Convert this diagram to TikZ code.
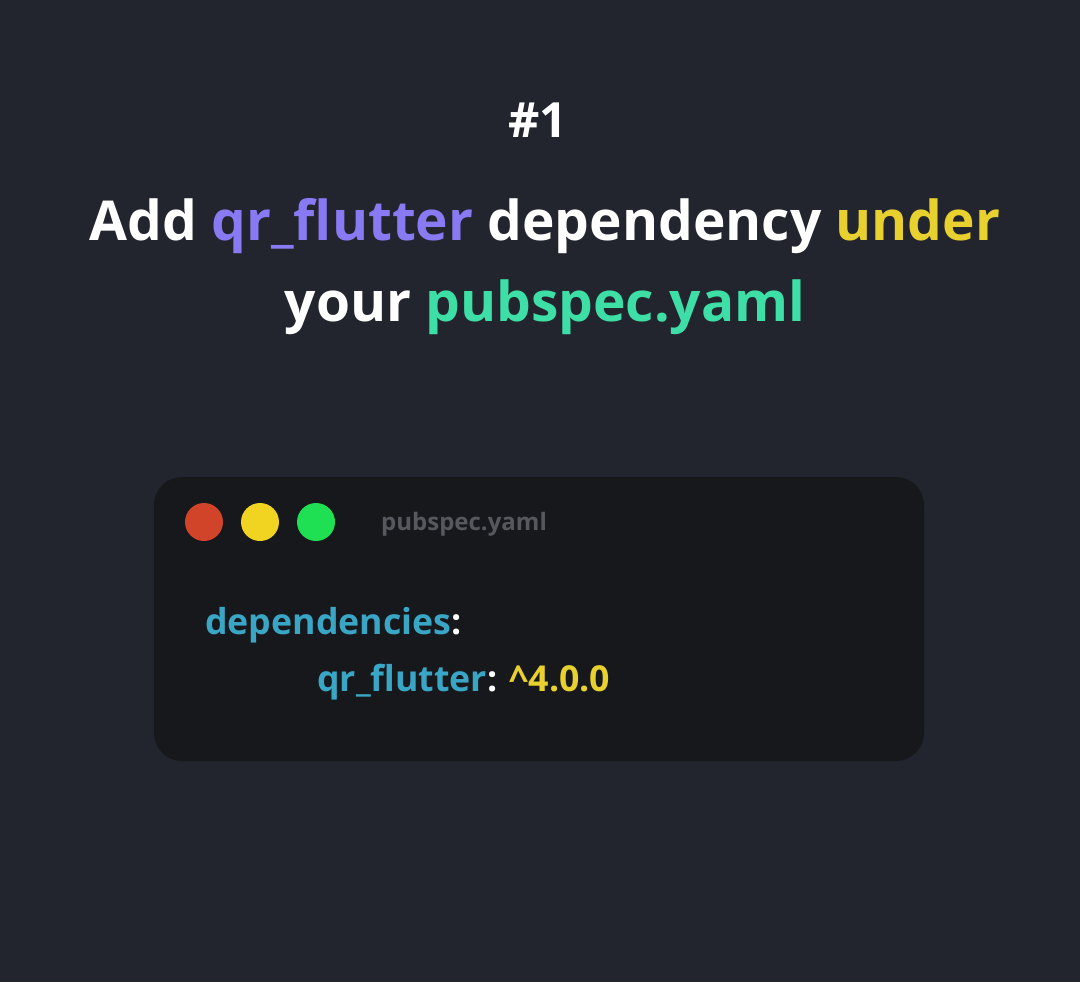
\documentclass[tikz,border=0pt]{standalone}
\usepackage{fontspec}
\setmainfont{Open Sans}
\definecolor{bg}{HTML}{22252D}
\definecolor{card}{HTML}{17181C}
\definecolor{tpurple}{HTML}{877AF2}
\definecolor{tyellow}{HTML}{E8D12E}
\definecolor{tgreen}{HTML}{3EDFA6}
\definecolor{cblue}{HTML}{3AA6C6}
\definecolor{fgray}{HTML}{57585D}
\definecolor{dred}{HTML}{D1442A}
\definecolor{dyellow}{HTML}{F0D421}
\definecolor{dgreen}{HTML}{1EE052}
\tikzset{
  title/.style={anchor=base, inner sep=0pt, text=white, font=\bfseries\fontsize{55}{66}\selectfont},
  code/.style={anchor=base west, inner sep=0pt, text=cblue, font=\bfseries\fontsize{35.7}{42}\selectfont},
  dot/.style={circle, minimum size=38pt, inner sep=0pt},
}
\begin{document}
\begin{tikzpicture}[x=1pt,y=-1pt]
\fill[bg] (0,0) rectangle (1080,982);
\useasboundingbox (0,0) rectangle (1080,982);
\node[title, font=\bfseries\fontsize{48.5}{58}\selectfont] (num) at (538,137) {\#1};
\node[title] (l1) at (545,240) {Add \textcolor{tpurple}{qr\_flutter} dependency \textcolor{tyellow}{under}};
\node[title] (l2) at (545,321) {your \textcolor{tgreen}{pubspec.yaml}};
\fill[card, rounded corners=28pt] (154,477) rectangle (924,761);
\node[dot, fill=dred] (red) at (204,522) {};
\node[dot, fill=dyellow] (yel) at (260,522) {};
\node[dot, fill=dgreen] (grn) at (316,522) {};
\node[anchor=base west, inner sep=0pt, text=fgray, font=\bfseries\fontsize{24}{29}\selectfont] (fname) at (381,530) {pubspec.yaml};
\node[code] (dep) at (205,634) {dependencies\textcolor{white}{:}};
\node[code] (qr) at (317,691) {qr\_flutter\textcolor{white}{:} \textcolor{tyellow}{\^{}4.0.0}};
\end{tikzpicture}
\end{document}
